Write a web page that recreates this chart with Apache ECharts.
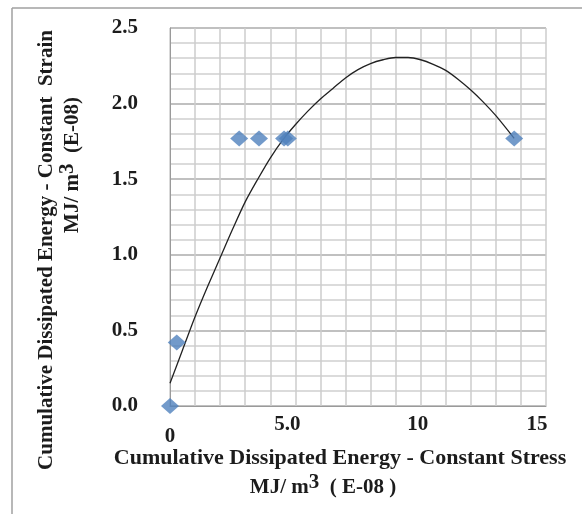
<!DOCTYPE html>
<html><head><meta charset="utf-8">
<script src="https://cdn.jsdelivr.net/npm/echarts@6/dist/echarts.min.js"></script>
<style>html,body{margin:0;padding:0;background:#fff}#c{width:582px;height:514px}</style>
</head><body><div id="c"></div>
<script>
// Observed points
const stressEnergy = [0, 0.27, 2.76, 3.55, 4.55, 4.7, 13.73];
const strainEnergy = [0, 0.42, 1.77, 1.77, 1.77, 1.77, 1.77];
// Trend curve
const trendX = [0, 0.5, 1, 1.5, 2, 2.5, 3, 3.5, 4, 4.5, 5, 5.5, 6, 6.5, 7, 7.5, 8, 8.5, 9, 9.5, 10, 10.5, 11, 11.5, 12, 12.5, 13, 13.73];
const trendY = [0.15, 0.37, 0.59, 0.79, 0.98, 1.17, 1.35, 1.50, 1.64, 1.76, 1.86, 1.95, 2.03, 2.10, 2.17, 2.225, 2.265, 2.29, 2.305, 2.305, 2.29, 2.26, 2.22, 2.16, 2.09, 2.01, 1.92, 1.77];
// Tick labels
const xTickValues = [0, 5, 10, 15];
const xTickLabels = ['0', '5.0', '10', '15'];
const yTickLabels = ['0.0', '0.5', '1.0', '1.5', '2.0', '2.5'];
const xTitle = ['Cumulative Dissipated Energy - Constant Stress', 'MJ/ m{s|3}  ( E-08 )'];
const yTitle = ['Cumulative Dissipated Energy - Constant  Strain', 'MJ/ m{s|3}  (E-08)'];

const font = 'Liberation Serif';
const txt = '#1c1c1c';
const chart = echarts.init(document.getElementById('c'));
const points = stressEnergy.map((x, i) => [x, strainEnergy[i]]);
const trend = trendX.map((x, i) => [x, trendY[i]]);
const lab = (extra) => Object.assign({ color: txt, fontFamily: font, fontWeight: 'bold', fontSize: 21 }, extra);

chart.setOption({
  animation: false,
  grid: { left: 170, right: 36, top: 28, bottom: 108 },
  xAxis: {
    type: 'value', min: 0, max: 15, interval: 1,
    axisLine: { show: true, lineStyle: { color: '#9a9a9a', width: 1 } },
    axisTick: { show: false },
    splitLine: { show: true, lineStyle: { color: '#cdcdcd', width: 1.5 } },
    axisLabel: Object.assign(lab({ margin: 8 }), {
      formatter: v => {
        const i = xTickValues.indexOf(Math.round(v * 1000) / 1000);
        if (i < 0) return '';
        return '{t' + i + '|' + xTickLabels[i] + '}';
      },
      rich: {
        t0: lab({ padding: [12, 0, 0, 0] }),
        t1: lab({ padding: [0, 16, 0, 0] }),
        t2: lab({ padding: [0, 6, 0, 0] }),
        t3: lab({ padding: [0, 18, 0, 0] })
      }
    })
  },
  yAxis: {
    type: 'value', min: 0, max: 2.5, interval: 0.5,
    axisLine: { show: true, lineStyle: { color: '#9a9a9a', width: 1 } },
    axisTick: { show: false },
    splitLine: { show: true, lineStyle: { color: '#ababab', width: 1.5 } },
    minorTick: { show: false, splitNumber: 5 },
    minorSplitLine: { show: true, lineStyle: { color: '#d0d0d0', width: 1.5 } },
    axisLabel: Object.assign(lab({ margin: 32 }), {
      formatter: v => yTickLabels[Math.round(v / 0.5)] || ''
    })
  },
  series: [
    {
      type: 'line', data: trend, smooth: 0.3, showSymbol: false, symbol: 'none',
      lineStyle: { color: '#222', width: 1.3 }, z: 3
    },
    {
      type: 'scatter', data: points, symbol: 'diamond', symbolSize: [18, 16],
      itemStyle: { color: '#4f81bd' }, z: 4, clip: false
    }
  ],
  graphic: [
    { type: 'line', shape: { x1: 12, y1: 8, x2: 582, y2: 8 }, style: { stroke: '#a0a0a0', lineWidth: 1.5 } },
    { type: 'line', shape: { x1: 12, y1: 8, x2: 12, y2: 514 }, style: { stroke: '#a0a0a0', lineWidth: 1.5 } },
    { type: 'text', x: 340, y: 458, style: { text: xTitle[0], fill: txt, font: 'bold 22px "Liberation Serif"', textAlign: 'center', textVerticalAlign: 'middle' } },
    { type: 'text', x: 323, y: 488, style: { text: xTitle[1], fill: txt, font: 'bold 21px "Liberation Serif"', textAlign: 'center', textVerticalAlign: 'middle',
      rich: { s: { fontSize: 21, fontWeight: 'bold', fontFamily: font, fill: txt, padding: [0, 0, 10, 0] } } } },
    { type: 'text', x: 47, y: 250, rotation: Math.PI / 2, style: { text: yTitle[0], fill: txt, font: 'bold 21px "Liberation Serif"', textAlign: 'center', textVerticalAlign: 'middle' } },
    { type: 'text', x: 73, y: 165, rotation: Math.PI / 2, style: { text: yTitle[1], fill: txt, font: 'bold 21px "Liberation Serif"', textAlign: 'center', textVerticalAlign: 'middle',
      rich: { s: { fontSize: 21, fontWeight: 'bold', fontFamily: font, fill: txt, padding: [0, 0, 10, 0] } } } }
  ]
});
</script></body></html>
